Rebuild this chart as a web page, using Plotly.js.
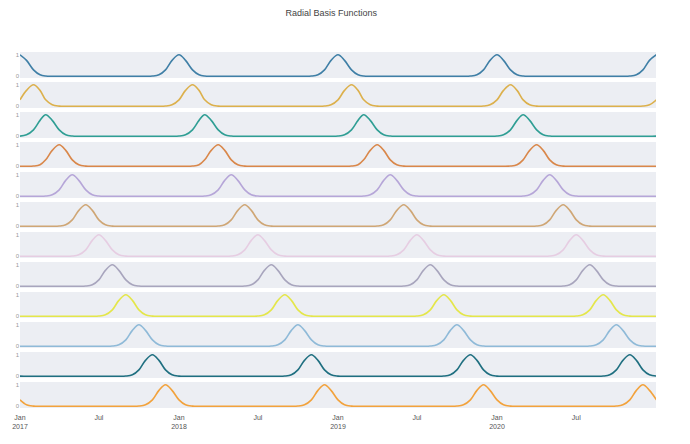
<!DOCTYPE html>
<html>
<head>
<meta charset="utf-8">
<script src="https://cdn.plot.ly/plotly-3.0.1.min.js"></script>
<style>body{margin:0;background:#fff}</style>
</head>
<body>
<div id="rbf_plot" style="width:690px;height:444px"></div>
<script>
// Radial basis functions, one per month, sampled on the 1st and 16th of each month
// values read off the picture (peak = 1 on the 1st of that month)

// sample dates: 2017-01-01 .. 2021-01-01, twice a month
let dates = [];
for (let y = 2017; y <= 2020; y++) {
    for (let m = 1; m <= 12; m++) {
        let mm = (m < 10 ? '0' : '') + m;
        dates.push(y + '-' + mm + '-01');
        dates.push(y + '-' + mm + '-16');
    }
}
dates.push('2021-01-01');

const tickDates = ['2017-01-01', '2017-07-01', '2018-01-01', '2018-07-01',
                   '2019-01-01', '2019-07-01', '2020-01-01', '2020-07-01'];
const tickLabels = ['Jan<br>2017', 'Jul', 'Jan<br>2018', 'Jul',
                    'Jan<br>2019', 'Jul', 'Jan<br>2020', 'Jul'];

const rbfJan = [
    1,.74,.3,.07,.01,0,0,0,0,0,0,0,0,0,0,0,0,0,0,0,.01,.07,.3,.74,
    1,.74,.3,.07,.01,0,0,0,0,0,0,0,0,0,0,0,0,0,0,0,.01,.07,.3,.74,
    1,.74,.3,.07,.01,0,0,0,0,0,0,0,0,0,0,0,0,0,0,0,.01,.07,.3,.74,
    1,.74,.3,.07,.01,0,0,0,0,0,0,0,0,0,0,0,0,0,0,0,.01,.07,.3,.74,
    1];
const rbfFeb = [
    .3,.74,1,.74,.3,.07,.01,0,0,0,0,0,0,0,0,0,0,0,0,0,0,0,.01,.07,
    .3,.74,1,.74,.3,.07,.01,0,0,0,0,0,0,0,0,0,0,0,0,0,0,0,.01,.07,
    .3,.74,1,.74,.3,.07,.01,0,0,0,0,0,0,0,0,0,0,0,0,0,0,0,.01,.07,
    .3,.74,1,.74,.3,.07,.01,0,0,0,0,0,0,0,0,0,0,0,0,0,0,0,.01,.07,
    .3];
const rbfMar = [
    .01,.07,.3,.74,1,.74,.3,.07,.01,0,0,0,0,0,0,0,0,0,0,0,0,0,0,0,
    .01,.07,.3,.74,1,.74,.3,.07,.01,0,0,0,0,0,0,0,0,0,0,0,0,0,0,0,
    .01,.07,.3,.74,1,.74,.3,.07,.01,0,0,0,0,0,0,0,0,0,0,0,0,0,0,0,
    .01,.07,.3,.74,1,.74,.3,.07,.01,0,0,0,0,0,0,0,0,0,0,0,0,0,0,0,
    .01];
const rbfApr = [
    0,0,.01,.07,.3,.74,1,.74,.3,.07,.01,0,0,0,0,0,0,0,0,0,0,0,0,0,
    0,0,.01,.07,.3,.74,1,.74,.3,.07,.01,0,0,0,0,0,0,0,0,0,0,0,0,0,
    0,0,.01,.07,.3,.74,1,.74,.3,.07,.01,0,0,0,0,0,0,0,0,0,0,0,0,0,
    0,0,.01,.07,.3,.74,1,.74,.3,.07,.01,0,0,0,0,0,0,0,0,0,0,0,0,0,
    0];
const rbfMay = [
    0,0,0,0,.01,.07,.3,.74,1,.74,.3,.07,.01,0,0,0,0,0,0,0,0,0,0,0,
    0,0,0,0,.01,.07,.3,.74,1,.74,.3,.07,.01,0,0,0,0,0,0,0,0,0,0,0,
    0,0,0,0,.01,.07,.3,.74,1,.74,.3,.07,.01,0,0,0,0,0,0,0,0,0,0,0,
    0,0,0,0,.01,.07,.3,.74,1,.74,.3,.07,.01,0,0,0,0,0,0,0,0,0,0,0,
    0];
const rbfJun = [
    0,0,0,0,0,0,.01,.07,.3,.74,1,.74,.3,.07,.01,0,0,0,0,0,0,0,0,0,
    0,0,0,0,0,0,.01,.07,.3,.74,1,.74,.3,.07,.01,0,0,0,0,0,0,0,0,0,
    0,0,0,0,0,0,.01,.07,.3,.74,1,.74,.3,.07,.01,0,0,0,0,0,0,0,0,0,
    0,0,0,0,0,0,.01,.07,.3,.74,1,.74,.3,.07,.01,0,0,0,0,0,0,0,0,0,
    0];
const rbfJul = [
    0,0,0,0,0,0,0,0,.01,.07,.3,.74,1,.74,.3,.07,.01,0,0,0,0,0,0,0,
    0,0,0,0,0,0,0,0,.01,.07,.3,.74,1,.74,.3,.07,.01,0,0,0,0,0,0,0,
    0,0,0,0,0,0,0,0,.01,.07,.3,.74,1,.74,.3,.07,.01,0,0,0,0,0,0,0,
    0,0,0,0,0,0,0,0,.01,.07,.3,.74,1,.74,.3,.07,.01,0,0,0,0,0,0,0,
    0];
const rbfAug = [
    0,0,0,0,0,0,0,0,0,0,.01,.07,.3,.74,1,.74,.3,.07,.01,0,0,0,0,0,
    0,0,0,0,0,0,0,0,0,0,.01,.07,.3,.74,1,.74,.3,.07,.01,0,0,0,0,0,
    0,0,0,0,0,0,0,0,0,0,.01,.07,.3,.74,1,.74,.3,.07,.01,0,0,0,0,0,
    0,0,0,0,0,0,0,0,0,0,.01,.07,.3,.74,1,.74,.3,.07,.01,0,0,0,0,0,
    0];
const rbfSep = [
    0,0,0,0,0,0,0,0,0,0,0,0,.01,.07,.3,.74,1,.74,.3,.07,.01,0,0,0,
    0,0,0,0,0,0,0,0,0,0,0,0,.01,.07,.3,.74,1,.74,.3,.07,.01,0,0,0,
    0,0,0,0,0,0,0,0,0,0,0,0,.01,.07,.3,.74,1,.74,.3,.07,.01,0,0,0,
    0,0,0,0,0,0,0,0,0,0,0,0,.01,.07,.3,.74,1,.74,.3,.07,.01,0,0,0,
    0];
const rbfOct = [
    0,0,0,0,0,0,0,0,0,0,0,0,0,0,.01,.07,.3,.74,1,.74,.3,.07,.01,0,
    0,0,0,0,0,0,0,0,0,0,0,0,0,0,.01,.07,.3,.74,1,.74,.3,.07,.01,0,
    0,0,0,0,0,0,0,0,0,0,0,0,0,0,.01,.07,.3,.74,1,.74,.3,.07,.01,0,
    0,0,0,0,0,0,0,0,0,0,0,0,0,0,.01,.07,.3,.74,1,.74,.3,.07,.01,0,
    0];
const rbfNov = [
    .01,0,0,0,0,0,0,0,0,0,0,0,0,0,0,0,.01,.07,.3,.74,1,.74,.3,.07,
    .01,0,0,0,0,0,0,0,0,0,0,0,0,0,0,0,.01,.07,.3,.74,1,.74,.3,.07,
    .01,0,0,0,0,0,0,0,0,0,0,0,0,0,0,0,.01,.07,.3,.74,1,.74,.3,.07,
    .01,0,0,0,0,0,0,0,0,0,0,0,0,0,0,0,.01,.07,.3,.74,1,.74,.3,.07,
    .01];
const rbfDec = [
    .3,.07,.01,0,0,0,0,0,0,0,0,0,0,0,0,0,0,0,.01,.07,.3,.74,1,.74,
    .3,.07,.01,0,0,0,0,0,0,0,0,0,0,0,0,0,0,0,.01,.07,.3,.74,1,.74,
    .3,.07,.01,0,0,0,0,0,0,0,0,0,0,0,0,0,0,0,.01,.07,.3,.74,1,.74,
    .3,.07,.01,0,0,0,0,0,0,0,0,0,0,0,0,0,0,0,.01,.07,.3,.74,1,.74,
    .3];

const series = [rbfJan, rbfFeb, rbfMar, rbfApr, rbfMay, rbfJun,
                rbfJul, rbfAug, rbfSep, rbfOct, rbfNov, rbfDec];
const colors = ['#3f7fa6', '#dcb04c', '#2f9e94', '#d9874a', '#b6a6d8', '#cfa675',
                '#e6cde2', '#a8a5bd', '#e4e64a', '#8fbad8', '#1f6f80', '#f2a23c'];

const nrows = series.length;
const gap = 0.011;

let traces = [];
let layout = {
    width: 690,
    height: 444,
    showlegend: false,
    paper_bgcolor: '#ffffff',
    plot_bgcolor: '#eceef3',
    margin: {l: 20, r: 34, t: 50, b: 34},
    font: {family: 'Liberation Sans, Arial, sans-serif', size: 7, color: '#666'},
    title: {
        text: 'Radial Basis Functions',
        x: 0.48, xanchor: 'center',
        y: 0.972, yanchor: 'middle',
        font: {size: 9, color: '#444'}
    }
};

for (let i = 0; i < nrows; i++) {
    let n = i + 1;
    let xa = n === 1 ? 'x' : 'x' + n;
    let ya = n === 1 ? 'y' : 'y' + n;
    traces.push({
        x: dates,
        y: series[i],
        xaxis: xa,
        yaxis: ya,
        mode: 'lines',
        line: {color: colors[i], width: 1.6, shape: 'spline', smoothing: 1},
        hoverinfo: 'x+y'
    });

    let top = 1 - i / nrows - gap / 2;
    let bot = 1 - (i + 1) / nrows + gap / 2;
    layout[n === 1 ? 'xaxis' : 'xaxis' + n] = {
        type: 'date',
        domain: [0, 1],
        anchor: ya,
        matches: n === 1 ? undefined : 'x',
        range: ['2017-01-01', '2020-12-31'],
        showgrid: false,
        zeroline: false,
        showline: false,
        ticks: '',
        tickmode: 'array',
        tickvals: tickDates,
        ticktext: tickLabels,
        ticklabelstandoff: 4,
        showticklabels: n === nrows,
        tickfont: {size: 7, color: '#555'}
    };
    layout[n === 1 ? 'yaxis' : 'yaxis' + n] = {
        domain: [bot, top],
        anchor: xa,
        range: [-0.08, 1.13],
        showgrid: false,
        zeroline: false,
        showline: false,
        ticks: '',
        tickvals: [0, 1],
        ticktext: ['0', '1'],
        tickfont: {size: 6, color: '#999'}
    };
}

Plotly.newPlot('rbf_plot', traces, layout, {displayModeBar: false, staticPlot: true});
</script>
</body>
</html>
